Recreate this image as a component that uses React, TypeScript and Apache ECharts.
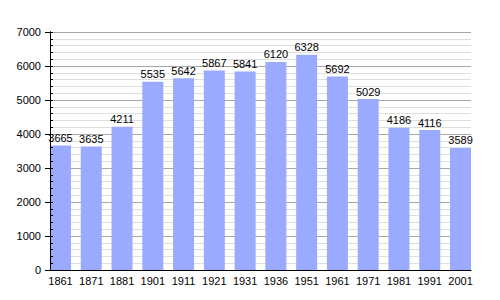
import React, { useEffect, useRef } from "react";
import * as echarts from "echarts";

const years = ["1861", "1871", "1881", "1901", "1911", "1921", "1931", "1936", "1951", "1961", "1971", "1981", "1991", "2001"];
const population = [3665, 3635, 4211, 5535, 5642, 5867, 5841, 6120, 6328, 5692, 5029, 4186, 4116, 3589];
const yTicks = [0, 1000, 2000, 3000, 4000, 5000, 6000, 7000];

export default function App() {
  const ref = useRef<HTMLDivElement>(null);
  useEffect(() => {
    if (!ref.current) return;
    const chart = echarts.init(ref.current, null, { renderer: "svg" });
    const font = "'Liberation Sans', Arial, sans-serif";
    const yMin = yTicks[0];
    const yMax = yTicks[yTicks.length - 1];
    chart.setOption({
      animation: false,
      grid: { left: 50, right: 29, top: 32, bottom: 30 },
      xAxis: {
        type: "value",
        min: -0.341,
        max: 13.341,
        z: 5,
        axisLine: { show: true, onZero: false, lineStyle: { color: "#000", width: 1 } },
        axisTick: { show: false },
        splitLine: { show: false },
        axisLabel: {
          customValues: years.map((_, i) => i),
          formatter: (v: number) => years[Math.round(v)] ?? "",
          color: "#000",
          fontSize: 11,
          fontFamily: font,
          margin: 5,
        },
      },
      yAxis: [
        {
          type: "value",
          min: yMin,
          max: yMax,
          interval: 1000,
          axisLine: { show: true, onZero: false, lineStyle: { color: "#000", width: 1 } },
          axisTick: { show: true, length: 5, lineStyle: { color: "#000" } },
          splitLine: { show: true, lineStyle: { color: "#a8a8a8", width: 1 } },
          minorSplitLine: { show: true, lineStyle: { color: "#dedede", width: 1 } },
          minorTick: { show: false, splitNumber: 5 },
          axisLabel: {
            color: "#000",
            fontSize: 11,
            fontFamily: font,
            margin: 9,
            formatter: (v: number) => String(v),
          },
        },
        {
          type: "value",
          position: "left",
          min: yMin,
          max: yMax,
          interval: 1000,
          z: 5,
          axisLine: { show: true, onZero: false, lineStyle: { color: "#000", width: 1 } },
          axisTick: { show: true, inside: true, length: 3, lineStyle: { color: "#000" } },
          minorTick: { show: true, splitNumber: 5, length: 3, lineStyle: { color: "#000" } },
          splitLine: { show: false },
          minorSplitLine: { show: false },
          axisLabel: { show: false },
        },
      ],
      series: [
        {
          type: "bar",
          yAxisIndex: 0,
          data: population.map((v, i) => [i, v]),
          barWidth: 21,
          itemStyle: { color: "#99aaff" },
          label: {
            show: true,
            position: "top",
            distance: 2,
            color: "#000",
            fontSize: 11,
            fontFamily: font,
          },
        },
      ],
    });
    return () => chart.dispose();
  }, []);
  return <div ref={ref} style={{ width: 500, height: 300, position: "absolute", left: 0, top: 0 }} />;
}
